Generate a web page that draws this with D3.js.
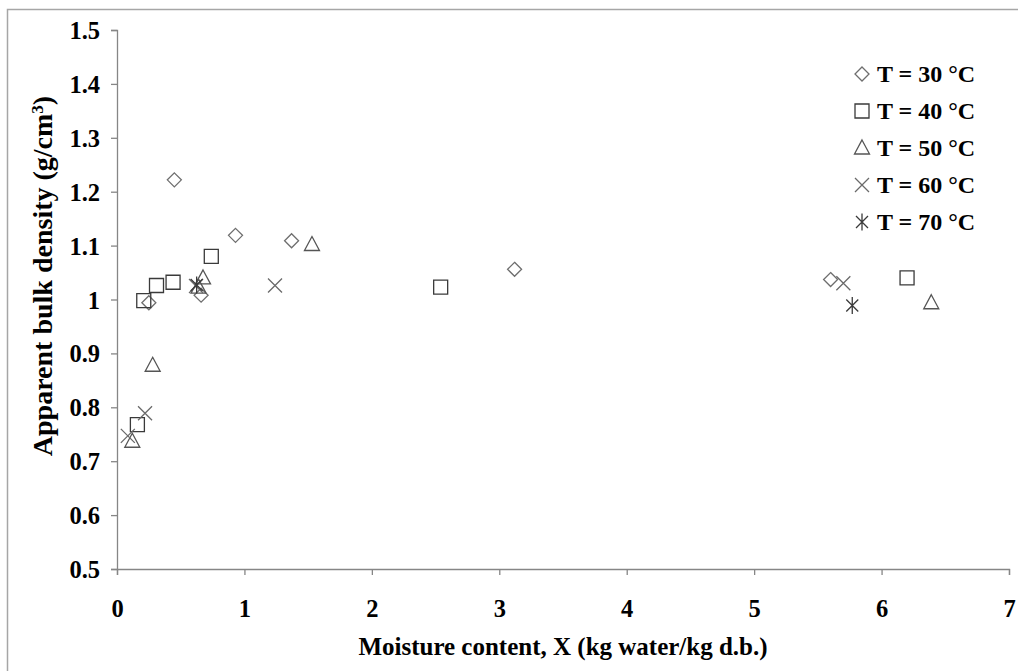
<!DOCTYPE html>
<html>
<head>
<meta charset="utf-8">
<script src="https://cdn.jsdelivr.net/npm/d3@7/dist/d3.min.js"></script>
<style>
  html, body { margin: 0; padding: 0; background: #fff; }
  svg text { font-family: "Liberation Serif", "Times New Roman", serif; font-weight: bold; fill: #000; }
</style>
</head>
<body>
<svg id="chart" width="1018" height="671"></svg>
<script>
// Apparent bulk density vs. moisture content at five drying temperatures
const temperatures = ["T = 30 °C", "T = 40 °C", "T = 50 °C", "T = 60 °C", "T = 70 °C"];

const moisture30 = [0.45, 0.93, 1.37, 0.25, 0.66, 3.12, 5.60];
const density30  = [1.222, 1.119, 1.109, 0.994, 1.008, 1.056, 1.037];

const moisture40 = [0.74, 0.44, 0.31, 0.21, 0.16, 2.54, 6.20];
const density40  = [1.080, 1.032, 1.026, 0.998, 0.768, 1.023, 1.040];

const moisture50 = [1.53, 0.675, 0.64, 0.28, 0.12, 6.39];
const density50  = [1.102, 1.040, 1.023, 0.878, 0.737, 0.994];

const moisture60 = [1.24, 0.22, 0.085, 0.62, 5.70];
const density60  = [1.026, 0.789, 0.747, 1.025, 1.030];

const moisture70 = [0.625, 5.77];
const density70  = [1.027, 0.989];

const xTicks = [0, 1, 2, 3, 4, 5, 6, 7];
const yTicks = [0.5, 0.6, 0.7, 0.8, 0.9, 1.0, 1.1, 1.2, 1.3, 1.4, 1.5];

const svg = d3.select("#chart");
const W = 1018, H = 671;
const plot = { left: 117, right: 1009, top: 30, bottom: 569 };

// outer chart frame
svg.append("rect")
  .attr("x", 7.5).attr("y", 9.5)
  .attr("width", W + 10).attr("height", H + 10)
  .attr("fill", "none").attr("stroke", "#a6a6a6").attr("stroke-width", 1.5);

const x = d3.scaleLinear().domain([0, 7]).range([plot.left, plot.right]);
const y = d3.scaleLinear().domain([0.5, 1.5]).range([plot.bottom, plot.top]);

// axes
const xAxis = d3.axisBottom(x).tickValues(xTicks).tickSize(6).tickFormat(d3.format("d"));
const yAxis = d3.axisLeft(y).tickValues(yTicks).tickSize(6)
  .tickFormat(d => (d === 1 ? "1" : d3.format(".1f")(d)));

const gx = svg.append("g").attr("transform", `translate(0,${plot.bottom})`).call(xAxis);
const gy = svg.append("g").attr("transform", `translate(${plot.left},0)`).call(yAxis);

[gx, gy].forEach(g => {
  g.select(".domain").attr("stroke", "#868686").attr("stroke-width", 1.3);
  g.selectAll(".tick line").attr("stroke", "#868686").attr("stroke-width", 1.3);
  g.selectAll(".tick text").attr("fill", "#000").style("font-size", "24.5px")
    .style("font-family", "'Liberation Serif', serif").style("font-weight", "bold");
});
gx.selectAll(".tick text").attr("dy", "0").attr("y", 48);
gy.selectAll(".tick text").attr("x", -17).attr("dy", "0.35em");

// axis titles
svg.append("text")
  .attr("x", (plot.left + plot.right) / 2).attr("y", 655)
  .attr("text-anchor", "middle").style("font-size", "25px")
  .text("Moisture content, X (kg water/kg d.b.)");

const yTitle = svg.append("text")
  .attr("transform", "translate(52,276) rotate(-90)")
  .attr("text-anchor", "middle").style("font-size", "28px");
yTitle.append("tspan").text("Apparent bulk density (g/cm");
yTitle.append("tspan").attr("dy", -9).style("font-size", "17px").text("3");
yTitle.append("tspan").attr("dy", 9).text(")");

// marker shapes
const diamond = { draw(ctx) { const r = 7; ctx.moveTo(0, -r); ctx.lineTo(r, 0); ctx.lineTo(0, r); ctx.lineTo(-r, 0); ctx.closePath(); } };
const square = { draw(ctx) { const r = 7; ctx.moveTo(-r, -r); ctx.lineTo(r, -r); ctx.lineTo(r, r); ctx.lineTo(-r, r); ctx.closePath(); } };
const triangle = { draw(ctx) { ctx.moveTo(0, -8); ctx.lineTo(7.5, 6); ctx.lineTo(-7.5, 6); ctx.closePath(); } };
const cross = { draw(ctx) { const r = 7; ctx.moveTo(-r, -r); ctx.lineTo(r, r); ctx.moveTo(-r, r); ctx.lineTo(r, -r); } };
const star = { draw(ctx) { const r = 6; ctx.moveTo(-r, -r); ctx.lineTo(r, r); ctx.moveTo(-r, r); ctx.lineTo(r, -r); ctx.moveTo(0, -8.5); ctx.lineTo(0, 8.5); } };

const series = [
  { name: temperatures[0], xs: moisture30, ys: density30, shape: diamond, color: "#6e6e6e" },
  { name: temperatures[1], xs: moisture40, ys: density40, shape: square, color: "#3a3a3a" },
  { name: temperatures[2], xs: moisture50, ys: density50, shape: triangle, color: "#555" },
  { name: temperatures[3], xs: moisture60, ys: density60, shape: cross, color: "#6a6a6a" },
  { name: temperatures[4], xs: moisture70, ys: density70, shape: star, color: "#3a3a3a" }
];

const marks = svg.append("g");
series.forEach(s => {
  const path = d3.symbol().type(s.shape)();
  marks.append("g").selectAll("path")
    .data(s.xs.map((v, i) => [v, s.ys[i]]))
    .join("path")
    .attr("d", path)
    .attr("transform", d => `translate(${x(d[0])},${y(d[1])})`)
    .attr("fill", "none").attr("stroke", s.color).attr("stroke-width", 1.3);
});

// legend
const legend = svg.append("g").attr("transform", "translate(862,74)");
series.forEach((s, i) => {
  const row = legend.append("g").attr("transform", `translate(0,${i * 37})`);
  row.append("path").attr("d", d3.symbol().type(s.shape)())
    .attr("fill", "none").attr("stroke", s.color).attr("stroke-width", 1.3);
  row.append("text").attr("x", 15).attr("dy", "0.35em").style("font-size", "24px").text(s.name);
});
</script>
</body>
</html>
